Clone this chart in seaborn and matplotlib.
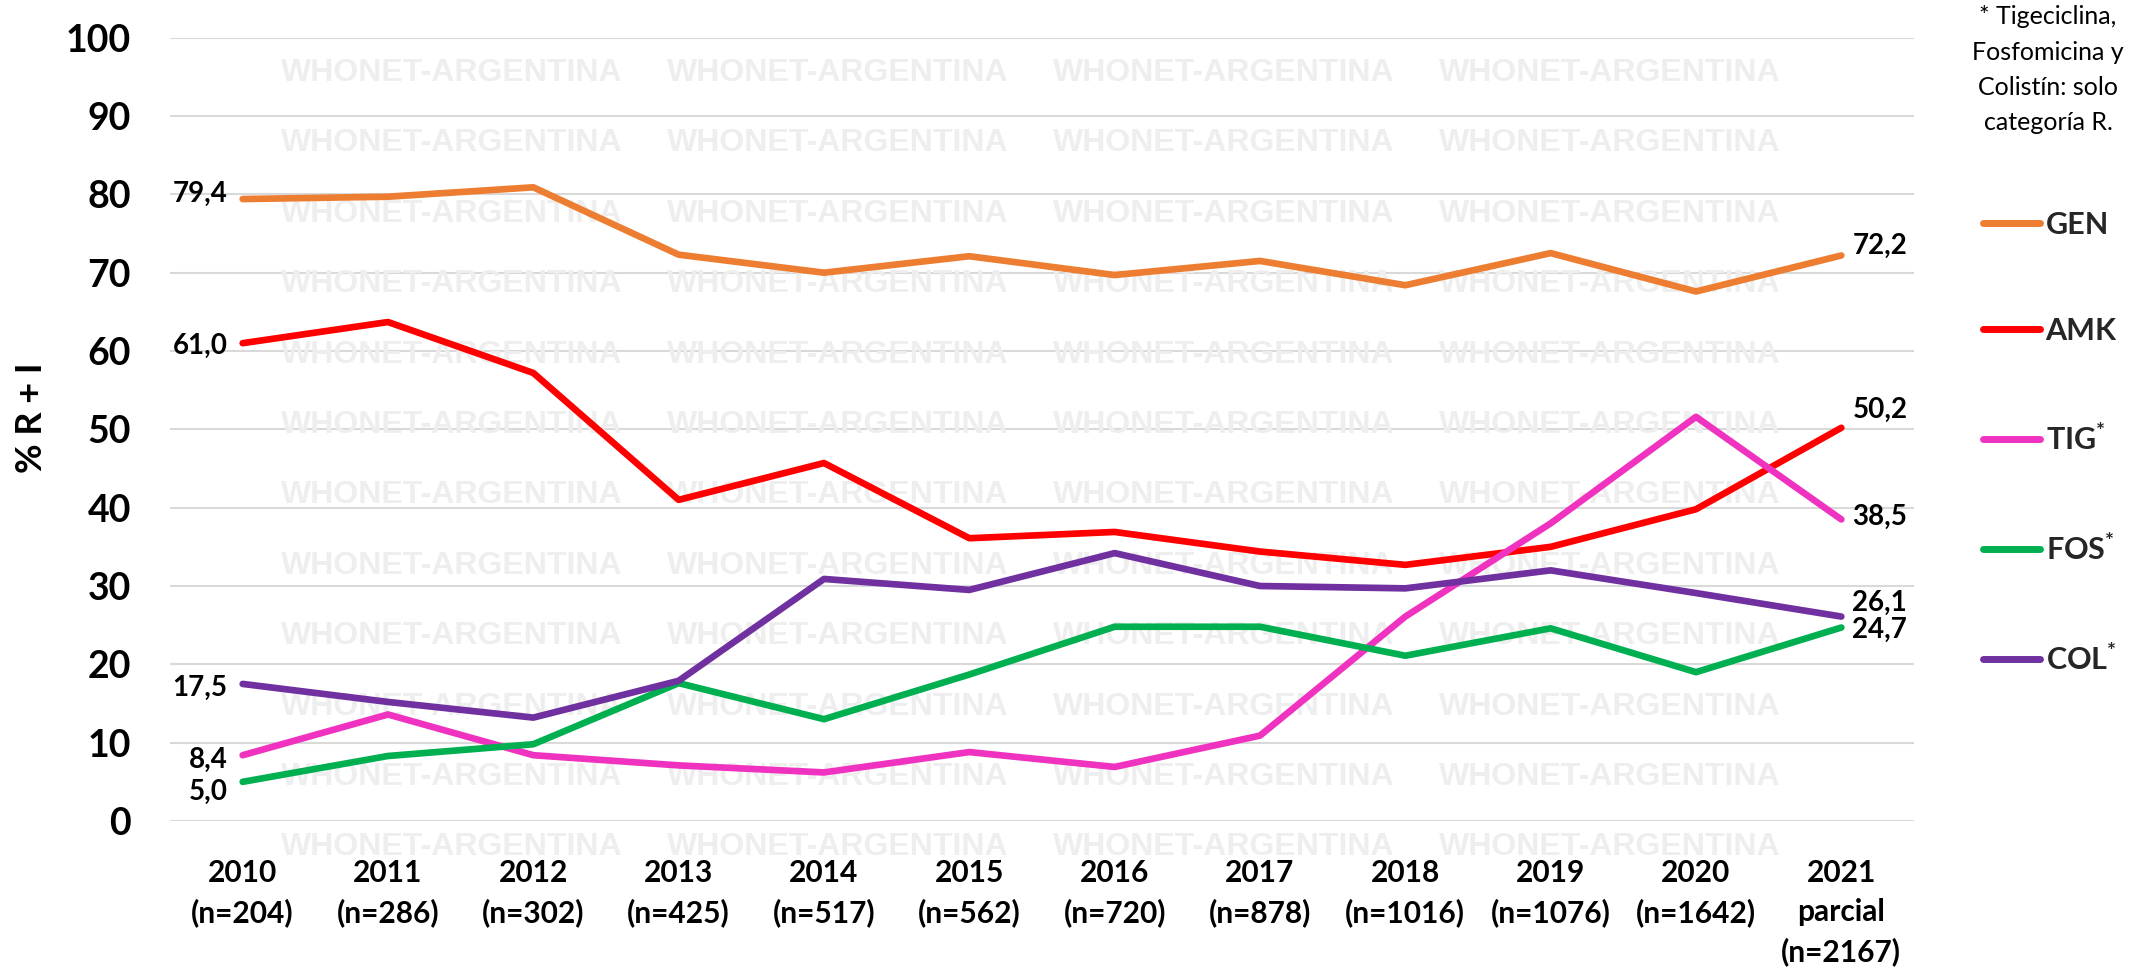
import matplotlib
matplotlib.use("Agg")
import pandas as pd
import matplotlib.pyplot as plt
import seaborn as sns

# data
years = ["2010", "2011", "2012", "2013", "2014", "2015",
         "2016", "2017", "2018", "2019", "2020", "2021"]
n_isolates = [204, 286, 302, 425, 517, 562, 720, 878, 1016, 1076, 1642, 2167]
partial_year = "2021"

gen = [79.4, 79.7, 80.9, 72.3, 70.0, 72.1, 69.7, 71.5, 68.4, 72.5, 67.6, 72.2]
amk = [61.0, 63.7, 57.2, 41.0, 45.7, 36.1, 36.9, 34.4, 32.7, 35.0, 39.8, 50.2]
tig = [8.4, 13.6, 8.4, 7.1, 6.2, 8.8, 6.9, 10.9, 26.1, 38.0, 51.6, 38.5]
fos = [5.0, 8.3, 9.8, 17.6, 13.0, 18.7, 24.8, 24.8, 21.1, 24.6, 19.0, 24.7]
col = [17.5, 15.2, 13.2, 17.9, 30.9, 29.5, 34.2, 30.0, 29.7, 32.0, 29.1, 26.1]

drugs = ["GEN", "AMK", "TIG", "FOS", "COL"]
legend_labels = ["GEN", "AMK", "TIG$^{\\mathbf{*}}$", "FOS$^{\\mathbf{*}}$", "COL$^{\\mathbf{*}}$"]
footnote = ["* Tigeciclina,", "Fosfomicina y", "Colistín: solo", "categoría R."]

colors = {"GEN": "#ED7D31", "AMK": "#FF0000", "TIG": "#F032C0",
          "FOS": "#00B050", "COL": "#7030A0"}

values = {"GEN": gen, "AMK": amk, "TIG": tig, "FOS": fos, "COL": col}
rows = []
for d in drugs:
    for y, v in zip(years, values[d]):
        rows.append({"year": y, "pct": v, "drug": d})
df = pd.DataFrame(rows)

xlabels = []
for y, n in zip(years, n_isolates):
    if y == partial_year:
        xlabels.append(f"{y}\nparcial\n(n={n})")
    else:
        xlabels.append(f"{y}\n(n={n})")

# label offsets in points (left end, right end)
left_dy = {"GEN": 4, "AMK": -2, "TIG": -3, "FOS": -7, "COL": -3}
right_dy = {"GEN": 7, "AMK": 13, "TIG": 2, "FOS": -2, "COL": 10}

sns.set_theme(style="white")
plt.rcParams["font.family"] = ["Lato", "DejaVu Sans"]
plt.rcParams["mathtext.fontset"] = "custom"
plt.rcParams["mathtext.rm"] = "Lato"
plt.rcParams["mathtext.bf"] = "Lato:bold"

W, H = 2136, 977
fig = plt.figure(figsize=(W / 100, H / 100), dpi=100)
ax = fig.add_axes([170 / W, 1 - 821 / H, 1744 / W, 783.3 / H])

# watermark grid
for r in range(12):
    cy = 73 + 70.4 * r
    for c in range(4):
        cx = 452 + 386 * c
        ax.text(cx / W, 1 - cy / H, "WHONET-ARGENTINA", transform=fig.transFigure,
                ha="center", va="center", fontsize=23, fontweight="bold",
                family="Liberation Sans", color="#EEEEEE", zorder=1, clip_on=False)

sns.lineplot(data=df, x="year", y="pct", hue="drug", hue_order=drugs,
             palette=colors, linewidth=4.8, sort=False, errorbar=None,
             solid_capstyle="round", ax=ax, zorder=3)

ax.set_xlim(-0.5, len(years) - 0.5)
ax.set_ylim(0, 100)
ax.set_yticks(range(0, 101, 10))
ax.set_yticklabels([str(v) for v in range(0, 101, 10)], fontsize=27, fontweight="bold")
ax.set_xticks(range(len(years)))
ax.set_xticklabels(xlabels, fontsize=21.5, fontweight="bold", linespacing=1.48)
ax.tick_params(axis="x", length=0, pad=27, colors="black")
ax.tick_params(axis="y", length=0, pad=28, colors="black")
ax.yaxis.grid(True, color="#D9D9D9", linewidth=1.5, zorder=0)
ax.xaxis.grid(False)
ax.set_axisbelow(True)
for s in ax.spines.values():
    s.set_visible(False)

ax.set_xlabel("")
ax.set_ylabel("% R + I", fontsize=26, fontweight="bold", color="black")
ax.yaxis.set_label_coords(-0.070, 0.515)

last = len(years) - 1
for d in drugs:
    v0 = values[d][0]
    v1 = values[d][-1]
    ax.annotate(f"{v0:.1f}".replace(".", ","), (0, v0), xytext=(-11, left_dy[d]),
                textcoords="offset points", ha="right", va="center",
                fontsize=20, fontweight="bold", color="black", zorder=5)
    ax.annotate(f"{v1:.1f}".replace(".", ","), (last, v1), xytext=(8, right_dy[d]),
                textcoords="offset points", ha="left", va="center",
                fontsize=20, fontweight="bold", color="black", zorder=5)

sns.move_legend(ax, "upper left", bbox_to_anchor=(1983 / W, 1 - 211 / H),
                bbox_transform=fig.transFigure, frameon=False, title=None,
                fontsize=22, handlelength=1.85, handletextpad=0.2,
                labelspacing=2.55, borderaxespad=0, borderpad=0)
leg = ax.get_legend()
for t, lab in zip(leg.get_texts(), legend_labels):
    t.set_text(lab)
    t.set_fontweight("bold")
for h in leg.legend_handles:
    h.set_linewidth(5)

for i, line in enumerate(footnote):
    fig.text(2048 / W, 1 - (17 + 35.3 * i) / H, line, ha="center", va="center",
             fontsize=18, color="black")

fig.savefig("out.png", dpi=100)
